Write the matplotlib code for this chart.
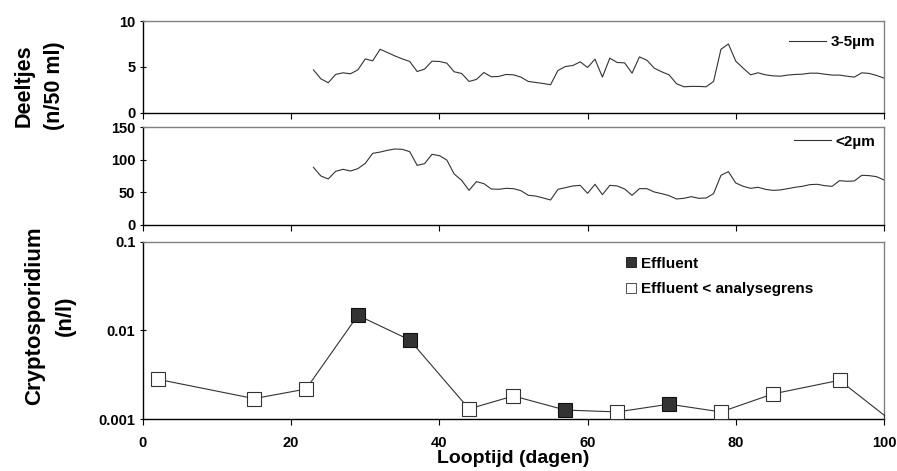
import numpy as np
import matplotlib
matplotlib.use('Agg')
import matplotlib.pyplot as plt
from matplotlib.lines import Line2D

plt.rcParams['font.family'] = ['Liberation Sans', 'DejaVu Sans']
plt.rcParams['font.weight'] = 'bold'

# deeltjestellingen, dagelijks
dagen = [23, 24, 25, 26, 27, 28, 29, 30, 31, 32, 33, 34, 35, 36, 37, 38, 39, 40,
         41, 42, 43, 44, 45, 46, 47, 48, 49, 50, 51, 52, 53, 54, 55, 56, 57, 58,
         59, 60, 61, 62, 63, 64, 65, 66, 67, 68, 69, 70, 71, 72, 73, 74, 75, 76,
         77, 78, 79, 80, 81, 82, 83, 84, 85, 86, 87, 88, 89, 90, 91, 92, 93, 94,
         95, 96, 97, 98, 99, 100]
deeltjes_3_5 = [4.69, 3.72, 3.29, 4.19, 4.37, 4.26, 4.69, 5.88, 5.67, 6.93, 6.57, 6.2,
                5.88, 5.6, 4.51, 4.77, 5.63, 5.6, 5.42, 4.48, 4.3, 3.43, 3.65, 4.4,
                3.94, 3.97, 4.19, 4.15, 3.9, 3.43, 3.32, 3.21, 3.07, 4.62, 5.05, 5.16,
                5.56, 4.95, 5.85, 3.9, 5.96, 5.49, 5.45, 4.33, 6.1, 5.74, 4.87, 4.48,
                4.15, 3.18, 2.85, 2.89, 2.89, 2.85, 3.43, 6.93, 7.5, 5.63, 4.87, 4.15,
                4.37, 4.15, 4.04, 4.0, 4.12, 4.19, 4.22, 4.33, 4.33, 4.22, 4.12, 4.12,
                4.0, 3.9, 4.37, 4.3, 4.08, 3.79]
deeltjes_2 = [88.6, 75.3, 70.7, 82.4, 85.5, 82.9, 86.5, 94.7, 110, 112, 114.7, 116.7,
              116.2, 112.6, 91.6, 94.2, 108.5, 106.5, 99.8, 78.3, 68.6, 53.2, 66.6, 63.5,
              55.3, 54.8, 56.3, 55.8, 52.7, 45.6, 44.5, 41.5, 38.4, 54.8, 57.3, 59.9,
              60.9, 48.6, 62.5, 46.6, 60.9, 59.9, 55.3, 45.6, 55.8, 55.8, 50.7, 48.1,
              45.1, 39.9, 41, 43.5, 41, 41.5, 48.1, 76.3, 81.9, 64.5, 59.4, 56.3,
              57.9, 54.8, 53.2, 53.8, 55.8, 57.9, 59.4, 62, 62.5, 60.4, 59.4, 68.1,
              67.1, 67.6, 76.3, 75.8, 74.2, 69.1]

# Cryptosporidium in effluent
crypto_dagen = [2, 15, 22, 29, 36, 44, 50, 57, 64, 71, 78, 85, 94, 101]
crypto_waarde = [0.00282, 0.00171, 0.00219, 0.0148, 0.00782, 0.00131, 0.00183,
                 0.00127, 0.00121, 0.00148, 0.00121, 0.00193, 0.00275, 0.00096]
boven_grens = [False, False, False, True, True, False, False,
               True, False, True, False, False, False, False]

lijnkleur = '#333333'
randkleur = '#808080'

fig = plt.figure(figsize=(8.97, 4.71), dpi=100)
ax1 = fig.add_axes([0.1594, 0.7601, 0.8261, 0.1953])
ax2 = fig.add_axes([0.1594, 0.5223, 0.8261, 0.2074])
ax3 = fig.add_axes([0.1594, 0.1098, 0.8261, 0.3771])


def opmaak(ax):
    ax.set_xlim(0, 100)
    ax.set_xticks([0, 20, 40, 60, 80, 100])
    ax.spines['top'].set_color(randkleur)
    ax.spines['right'].set_color(randkleur)
    for s in ['left', 'bottom']:
        ax.spines[s].set_color('black')
    for s in ax.spines.values():
        s.set_linewidth(1.0)
    ax.tick_params(axis='y', direction='inout', length=5, width=0.8, labelsize=10.5, pad=3)
    ax.tick_params(axis='x', direction='out', length=4, width=0.8, labelsize=10.5)
    for lbl in ax.get_yticklabels() + ax.get_xticklabels():
        lbl.set_fontweight('bold')


ax1.plot(dagen, deeltjes_3_5, '-', color=lijnkleur, lw=0.8, label='3-5µm')
ax1.set_ylim(0, 10)
ax1.set_yticks([0, 5, 10])
opmaak(ax1)
ax1.tick_params(axis='x', labelbottom=False)
ax1.legend(loc='center right', bbox_to_anchor=(0.988, 0.772), frameon=False,
           borderaxespad=0, borderpad=0, handlelength=2.4, handletextpad=0.3,
           prop={'weight': 'bold', 'size': 11})

ax2.plot(dagen, deeltjes_2, '-', color=lijnkleur, lw=0.8, label='<2µm')
ax2.set_ylim(0, 150)
ax2.set_yticks([0, 50, 100, 150])
opmaak(ax2)
ax2.tick_params(axis='x', labelbottom=False)
ax2.legend(loc='center right', bbox_to_anchor=(0.988, 0.853), frameon=False,
           borderaxespad=0, borderpad=0, handlelength=2.4, handletextpad=0.3,
           prop={'weight': 'bold', 'size': 11})

ax3.set_yscale('log')
ax3.plot(crypto_dagen, crypto_waarde, '-', color=lijnkleur, lw=0.8, zorder=2)
cd = np.array(crypto_dagen)
cw = np.array(crypto_waarde)
bg = np.array(boven_grens)
ax3.plot(cd[bg], cw[bg], 's', ms=10, mfc='#333333', mec='#111111', mew=0.8,
         ls='none', zorder=3, clip_on=True)
ax3.plot(cd[~bg], cw[~bg], 's', ms=10, mfc='white', mec='#333333', mew=0.8,
         ls='none', zorder=3, clip_on=True)
ax3.set_ylim(0.001, 0.1)
ax3.set_yticks([0.001, 0.01, 0.1])
ax3.set_yticklabels(['0.001', '0.01', '0.1'])
ax3.minorticks_off()
opmaak(ax3)
ax3.tick_params(axis='x', pad=8)
ax3.set_xlabel('Looptijd (dagen)', fontsize=14, fontweight='bold', labelpad=0)

handles = [Line2D([], [], marker='s', ls='none', ms=7, mfc='#333333', mec='#111111', mew=0.6),
           Line2D([], [], marker='s', ls='none', ms=7, mfc='white', mec='#333333', mew=0.6)]
ax3.legend(handles, ['Effluent', 'Effluent < analysegrens'], loc='upper left',
           bbox_to_anchor=(0.652, 0.915), frameon=False, borderaxespad=0, borderpad=0,
           handlelength=0.7, handletextpad=0.25, labelspacing=0.75,
           prop={'weight': 'bold', 'size': 11})

fig.text(0.044, 1 - 86 / 471, 'Deeltjes\n(n/50 ml)', rotation=90, ha='center', va='center',
         fontsize=15.5, fontweight='bold', linespacing=1.6)
fig.text(0.056, 1 - 316 / 471, 'Cryptosporidium\n(n/l)', rotation=90, ha='center', va='center',
         fontsize=16, fontweight='bold', linespacing=1.6)

plt.savefig('out.png', dpi=100)
